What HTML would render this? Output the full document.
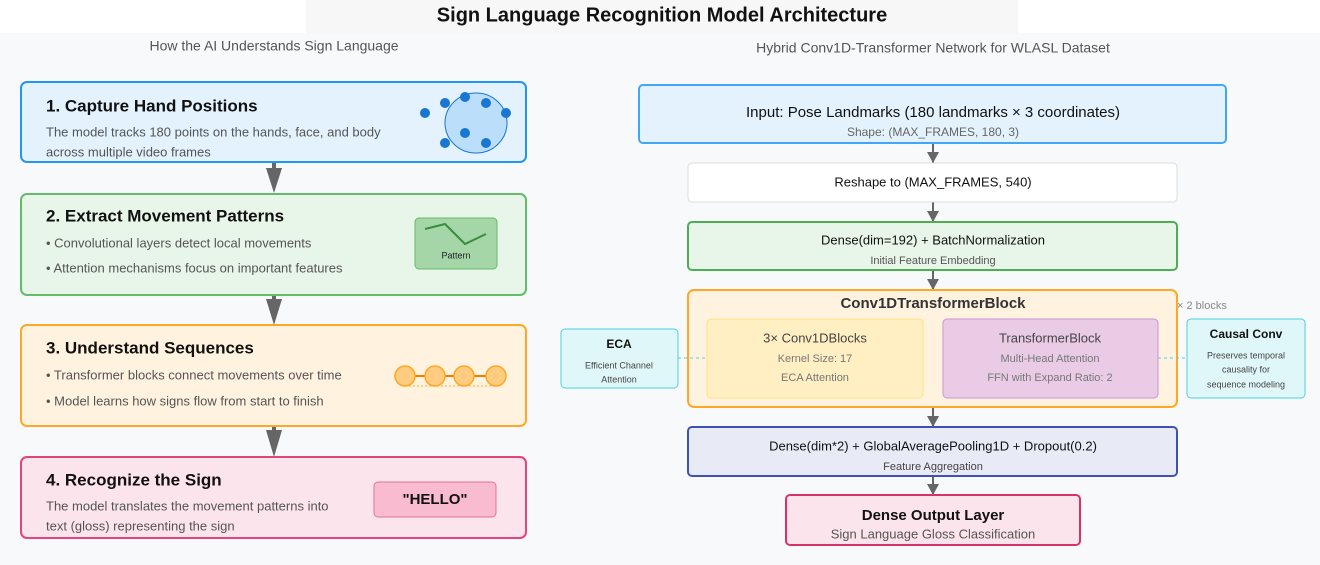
<!DOCTYPE html>
<html><head><meta charset="utf-8"><style>
html,body{margin:0;padding:0;background:#f8f9fa;}
svg{display:block;font-family:"Liberation Sans",Arial,sans-serif;}
</style></head><body>
<svg width="1320" height="565" viewBox="0 0 1320 565" xmlns="http://www.w3.org/2000/svg">
<rect x="0" y="0" width="1320" height="565" fill="#f8f9fa"/>
<rect x="0" y="0" width="306" height="33" fill="#ffffff"/>
<rect x="306" y="0" width="712" height="33" fill="#f7f7f7"/>
<rect x="1018" y="0" width="302" height="33" fill="#ffffff"/>
<text x="662" y="16" text-anchor="middle" dominant-baseline="middle" font-size="20" font-weight="bold" fill="#111">Sign Language Recognition Model Architecture</text>
<text x="274" y="47" text-anchor="middle" dominant-baseline="middle" font-size="14" fill="#555">How the AI Understands Sign Language</text>
<text x="933" y="49" text-anchor="middle" dominant-baseline="middle" font-size="14" fill="#555">Hybrid Conv1D-Transformer Network for WLASL Dataset</text>

<!-- left arrows -->
<g fill="#666">
<rect x="272" y="162" width="4" height="14"/><polygon points="266,168 282,168 274,193"/>
<rect x="272" y="295" width="4" height="14"/><polygon points="266,299 282,299 274,325"/>
<rect x="272" y="426" width="4" height="14"/><polygon points="266,430 282,430 274,457"/>
</g>

<!-- Box1 -->
<rect x="21" y="82" width="505" height="80" rx="6" fill="#e3f2fd" stroke="#2196f3" stroke-width="2"/>
<text x="46" y="107" dominant-baseline="middle" font-size="17" font-weight="bold" fill="#111">1. Capture Hand Positions</text>
<text x="46" y="133" dominant-baseline="middle" font-size="13" fill="#555">The model tracks 180 points on the hands, face, and body</text>
<text x="46" y="153" dominant-baseline="middle" font-size="13" fill="#555">across multiple video frames</text>
<ellipse cx="476" cy="123" rx="31" ry="30" fill="#bbdefb" stroke="#1976d2" stroke-width="1"/>
<g fill="#1976d2">
<circle cx="425" cy="113" r="5"/><circle cx="445" cy="103" r="5"/><circle cx="465" cy="97" r="5"/><circle cx="486" cy="103" r="5"/><circle cx="506" cy="113" r="5"/><circle cx="465" cy="133" r="5"/><circle cx="445" cy="143" r="5"/><circle cx="486" cy="143" r="5"/>
</g>

<!-- Box2 -->
<rect x="21" y="194" width="505" height="101" rx="6" fill="#e8f5e9" stroke="#66bb6a" stroke-width="2"/>
<text x="46" y="217" dominant-baseline="middle" font-size="17" font-weight="bold" fill="#111">2. Extract Movement Patterns</text>
<text x="46" y="244" dominant-baseline="middle" font-size="13" fill="#555">• Convolutional layers detect local movements</text>
<text x="46" y="269" dominant-baseline="middle" font-size="13" fill="#555">• Attention mechanisms focus on important features</text>
<rect x="415" y="218" width="82" height="51" rx="4" fill="#a5d6a7" stroke="#66bb6a" stroke-width="1"/>
<polyline points="425,229 445,224 465,244 486,234" fill="none" stroke="#388e3c" stroke-width="2"/>
<text x="456" y="256" text-anchor="middle" dominant-baseline="middle" font-size="9" fill="#222">Pattern</text>

<!-- Box3 -->
<rect x="21" y="325" width="505" height="101" rx="6" fill="#fff3e0" stroke="#ffa726" stroke-width="2"/>
<text x="46" y="349" dominant-baseline="middle" font-size="17" font-weight="bold" fill="#111">3. Understand Sequences</text>
<text x="46" y="376" dominant-baseline="middle" font-size="13" fill="#555">• Transformer blocks connect movements over time</text>
<text x="46" y="402" dominant-baseline="middle" font-size="13" fill="#555">• Model learns how signs flow from start to finish</text>
<line x1="405" y1="376" x2="496" y2="376" stroke="#f57c00" stroke-width="2"/>
<line x1="405" y1="386" x2="496" y2="386" stroke="#ffa726" stroke-width="1" stroke-dasharray="2,2"/>
<g fill="#ffcc80" stroke="#ffa726" stroke-width="1.5">
<circle cx="405" cy="376" r="10"/><circle cx="435" cy="376" r="10"/><circle cx="464" cy="376" r="10"/><circle cx="496" cy="376" r="10"/>
</g>

<!-- Box4 -->
<rect x="21" y="457" width="505" height="81" rx="6" fill="#fce4ec" stroke="#e0457b" stroke-width="2"/>
<text x="46" y="481" dominant-baseline="middle" font-size="17" font-weight="bold" fill="#111">4. Recognize the Sign</text>
<text x="46" y="507" dominant-baseline="middle" font-size="13" fill="#555">The model translates the movement patterns into</text>
<text x="46" y="527" dominant-baseline="middle" font-size="13" fill="#555">text (gloss) representing the sign</text>
<rect x="374" y="482" width="122" height="35" rx="4" fill="#f8bbd0" stroke="#e57399" stroke-width="1"/>
<text x="435" y="500" text-anchor="middle" dominant-baseline="middle" font-size="15" font-weight="bold" fill="#111">"HELLO"</text>

<!-- right arrows -->
<g fill="#666">
<rect x="932" y="143" width="2" height="20"/><polygon points="927,152 939,152 933,163"/>
<rect x="932" y="202" width="2" height="20"/><polygon points="927,211 939,211 933,222"/>
<rect x="932" y="270" width="2" height="20"/><polygon points="927,279 939,279 933,290"/>
<rect x="932" y="407" width="2" height="20"/><polygon points="927,416 939,416 933,427"/>
<rect x="932" y="476" width="2" height="19"/><polygon points="927,484 939,484 933,495"/>
</g>

<rect x="639" y="85" width="587" height="58" rx="4" fill="#e3f2fd" stroke="#42a5f5" stroke-width="2"/>
<text x="933" y="113" text-anchor="middle" dominant-baseline="middle" font-size="15" fill="#111">Input: Pose Landmarks (180 landmarks × 3 coordinates)</text>
<text x="933" y="133" text-anchor="middle" dominant-baseline="middle" font-size="12" fill="#666">Shape: (MAX_FRAMES, 180, 3)</text>

<rect x="688" y="163" width="489" height="39" rx="4" fill="#ffffff" stroke="#dddddd" stroke-width="1"/>
<text x="933" y="183" text-anchor="middle" dominant-baseline="middle" font-size="13" fill="#111">Reshape to (MAX_FRAMES, 540)</text>

<rect x="688" y="222" width="489" height="48" rx="4" fill="#e8f5e9" stroke="#4caf50" stroke-width="2"/>
<text x="933" y="241" text-anchor="middle" dominant-baseline="middle" font-size="13" fill="#111">Dense(dim=192) + BatchNormalization</text>
<text x="933" y="261" text-anchor="middle" dominant-baseline="middle" font-size="11" fill="#555">Initial Feature Embedding</text>

<rect x="688" y="290" width="489" height="117" rx="6" fill="#fff3e0" stroke="#ffa726" stroke-width="2"/>
<text x="933" y="304" text-anchor="middle" dominant-baseline="middle" font-size="15" font-weight="bold" fill="#333">Conv1DTransformerBlock</text>
<text x="1177" y="306" dominant-baseline="middle" font-size="11" fill="#888">× 2 blocks</text>
<rect x="707" y="319" width="216" height="79" rx="4" fill="#ffefc2" stroke="#ffe082" stroke-width="1"/>
<text x="815" y="339" text-anchor="middle" dominant-baseline="middle" font-size="13" fill="#444">3× Conv1DBlocks</text>
<text x="815" y="359" text-anchor="middle" dominant-baseline="middle" font-size="11" fill="#777">Kernel Size: 17</text>
<text x="815" y="378" text-anchor="middle" dominant-baseline="middle" font-size="11" fill="#777">ECA Attention</text>
<rect x="943" y="319" width="215" height="79" rx="4" fill="#e9cbe6" stroke="#ce93d8" stroke-width="1"/>
<text x="1050" y="339" text-anchor="middle" dominant-baseline="middle" font-size="13" fill="#444">TransformerBlock</text>
<text x="1050" y="359" text-anchor="middle" dominant-baseline="middle" font-size="11" fill="#777">Multi-Head Attention</text>
<text x="1050" y="378" text-anchor="middle" dominant-baseline="middle" font-size="11" fill="#777">FFN with Expand Ratio: 2</text>

<rect x="561" y="329" width="117" height="59" rx="4" fill="#e0f7fa" stroke="#4dd0e1" stroke-width="1"/>
<text x="619" y="345" text-anchor="middle" dominant-baseline="middle" font-size="12" font-weight="bold" fill="#111">ECA</text>
<text x="619" y="366" text-anchor="middle" dominant-baseline="middle" font-size="9" fill="#444">Efficient Channel</text>
<text x="619" y="380" text-anchor="middle" dominant-baseline="middle" font-size="9" fill="#444">Attention</text>
<line x1="678" y1="358" x2="707" y2="358" stroke="#4dd0e1" stroke-width="1" stroke-dasharray="3,3"/>

<rect x="1187" y="319" width="118" height="79" rx="4" fill="#e0f7fa" stroke="#4dd0e1" stroke-width="1"/>
<text x="1246" y="335" text-anchor="middle" dominant-baseline="middle" font-size="12" font-weight="bold" fill="#111">Causal Conv</text>
<text x="1246" y="356" text-anchor="middle" dominant-baseline="middle" font-size="9" fill="#444">Preserves temporal</text>
<text x="1246" y="370" text-anchor="middle" dominant-baseline="middle" font-size="9" fill="#444">causality for</text>
<text x="1246" y="385" text-anchor="middle" dominant-baseline="middle" font-size="9" fill="#444">sequence modeling</text>
<line x1="1158" y1="358" x2="1187" y2="358" stroke="#4dd0e1" stroke-width="1" stroke-dasharray="3,3"/>

<rect x="688" y="427" width="489" height="49" rx="4" fill="#e8eaf6" stroke="#3f51b5" stroke-width="2"/>
<text x="933" y="447" text-anchor="middle" dominant-baseline="middle" font-size="13" fill="#111">Dense(dim*2) + GlobalAveragePooling1D + Dropout(0.2)</text>
<text x="933" y="467" text-anchor="middle" dominant-baseline="middle" font-size="11" fill="#444">Feature Aggregation</text>

<rect x="786" y="495" width="294" height="50" rx="4" fill="#fce4ec" stroke="#d6336c" stroke-width="2"/>
<text x="933" y="516" text-anchor="middle" dominant-baseline="middle" font-size="15" font-weight="bold" fill="#111">Dense Output Layer</text>
<text x="933" y="535" text-anchor="middle" dominant-baseline="middle" font-size="13" fill="#555">Sign Language Gloss Classification</text>
</svg>
</body></html>
